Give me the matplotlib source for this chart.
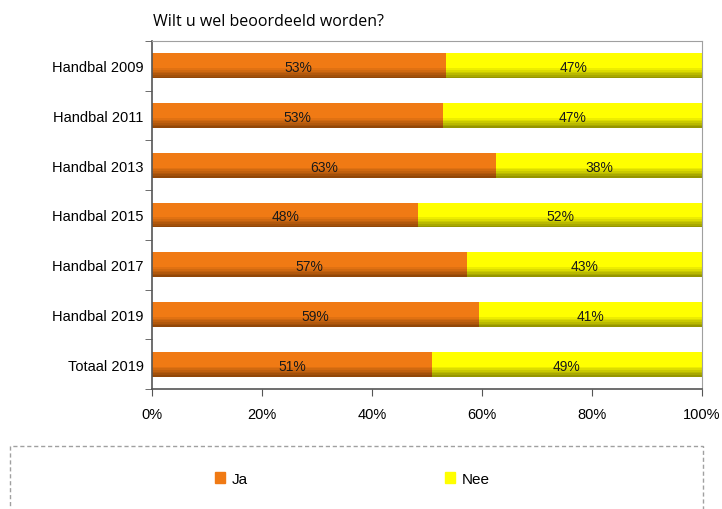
#!/usr/bin/env python3
"""
Wilt u wel beoordeeld worden? - stacked horizontal bars
"""
import matplotlib
matplotlib.use('Agg')
import matplotlib.pyplot as plt
from matplotlib.patches import Rectangle
from matplotlib.ticker import PercentFormatter

categories = ['Handbal 2009', 'Handbal 2011', 'Handbal 2013', 'Handbal 2015',
              'Handbal 2017', 'Handbal 2019', 'Totaal 2019']
ja_vals = [53.4, 52.9, 62.6, 48.4, 57.3, 59.5, 50.9]
nee_vals = [46.6, 47.1, 37.4, 51.6, 42.7, 40.5, 49.1]
ja_labels = ['53%', '53%', '63%', '48%', '57%', '59%', '51%']
nee_labels = ['47%', '47%', '38%', '52%', '43%', '41%', '49%']

plt.rcParams['font.family'] = ['Liberation Sans', 'DejaVu Sans']

fig = plt.figure(figsize=(7.22, 5.10), dpi=100)
ax = fig.add_axes([152 / 722, 1 - 390 / 510, 550 / 722, 348 / 510])

ypos = list(range(len(categories)))
h = 0.5
orange, orange_dk = '#F07A14', '#6E3404'
yellow, yellow_dk = '#FFFF00', '#6E6E00'

ax.barh(ypos, ja_vals, height=h, color=orange, edgecolor='none')
ax.barh(ypos, nee_vals, left=ja_vals, height=h, color=yellow, edgecolor='none')
# darker lower bands to mimic the shaded 3D look
nband = 6
bh = 0.2 / nband
for k in range(nband):
    off = h / 2 - 0.2 + (k + 0.5) * bh
    a = 0.12 + 0.12 * k
    ax.barh([p + off for p in ypos], ja_vals, height=bh, color=orange_dk, alpha=a, edgecolor='none')
    ax.barh([p + off for p in ypos], nee_vals, left=ja_vals, height=bh, color=yellow_dk,
            alpha=a, edgecolor='none')

for i in ypos:
    ax.text(ja_vals[i] / 2, i + 0.03, ja_labels[i], ha='center', va='center',
            fontsize=10, color='#1a1a1a')
    ax.text(ja_vals[i] + nee_vals[i] / 2, i + 0.03, nee_labels[i], ha='center', va='center',
            fontsize=10, color='#1a1a1a')

ax.set_xlim(0, 100)
ax.set_ylim(len(categories) - 0.5, -0.5)
ax.set_yticks(ypos)
ax.set_yticklabels(categories, fontsize=10.5)
ax.set_yticks([p - 0.5 for p in ypos] + [len(categories) - 0.5], minor=True)
ax.tick_params(axis='y', which='major', length=0, pad=6)
ax.tick_params(axis='y', which='minor', length=5, color='#555555')
ax.set_xticks([0, 20, 40, 60, 80, 100])
ax.xaxis.set_major_formatter(PercentFormatter(decimals=0))
ax.tick_params(axis='x', labelsize=10.5, length=5, color='#555555', pad=8)

for s in ['top', 'right']:
    ax.spines[s].set_color('#A0A0A0')
for s in ['left', 'bottom']:
    ax.spines[s].set_color('#555555')
    ax.spines[s].set_linewidth(1.2)

fig.text(153 / 722, 1 - 22 / 510, 'Wilt u wel beoordeeld worden?', fontsize=11.5,
         ha='left', va='center', family=['Open Sans', 'DejaVu Sans'])

# legend box (dashed)
fig.patches.append(Rectangle((10 / 722, -0.05), 693 / 722, 0.05 + (510 - 447) / 510,
                             transform=fig.transFigure, fill=False,
                             edgecolor='#A0A0A0', linestyle=(0, (3, 2)), linewidth=1))
handles = [Rectangle((0, 0), 1, 1, color=orange), Rectangle((0, 0), 1, 1, color=yellow)]
fig.legend(handles, ['Ja', 'Nee'], loc='center', bbox_to_anchor=(352 / 722, 1 - 480 / 510),
           ncol=2, frameon=False, fontsize=11, handlelength=0.7, handleheight=0.7,
           handletextpad=0.4, columnspacing=12.9)

fig.savefig('out.png', dpi=100)
